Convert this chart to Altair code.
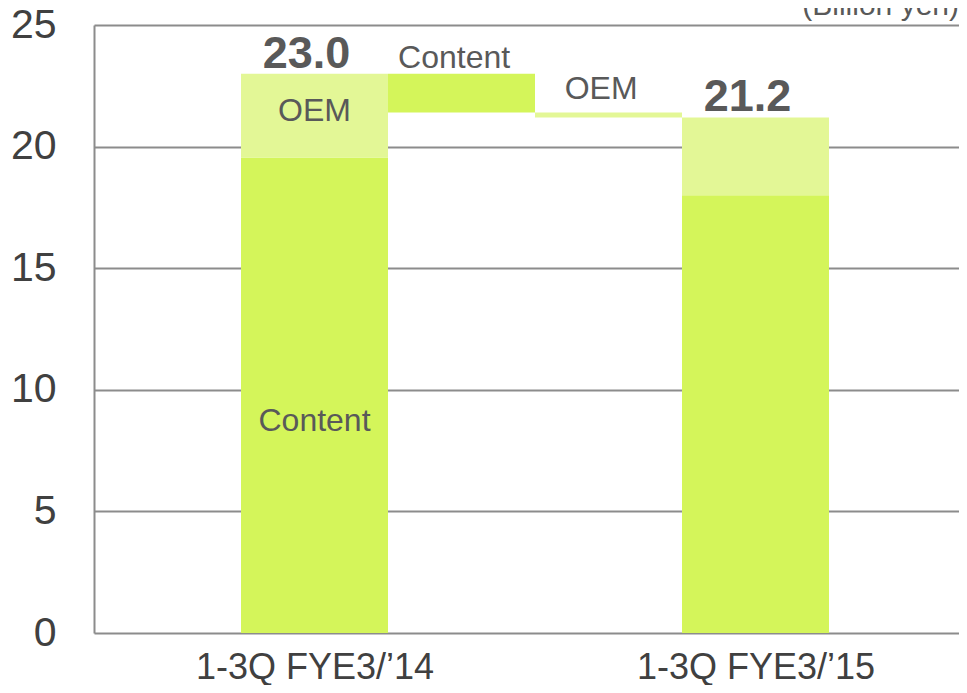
import altair as alt
import pandas as pd

# ---- data ----
periods = ["1-3Q FYE3/\u201914", "1-3Q FYE3/\u201915"]
segments = ["Content", "OEM"]
content_vals = [19.55, 18.0]
oem_vals = [3.45, 3.2]
totals = [23.0, 21.2]
bridge_labels = ["Content", "OEM"]
bridge_changes = [-1.6, -0.2]
unit_label = "(Billion yen)"
y_ticks = [0, 5, 10, 15, 20, 25]

# slots on the x scale: 1 = first period, 2-3 = bridge, 4 = second period
rows = []
rows.append(dict(x=1, x2=2, y=0, y2=content_vals[0], seg="Content"))
rows.append(dict(x=1, x2=2, y=content_vals[0], y2=content_vals[0] + oem_vals[0], seg="OEM"))
level = totals[0]
for i, (lab, ch) in enumerate(zip(bridge_labels, bridge_changes)):
    rows.append(dict(x=2 + i, x2=3 + i, y=level, y2=level + ch, seg=lab))
    level += ch
rows.append(dict(x=4, x2=5, y=0, y2=content_vals[1], seg="Content"))
rows.append(dict(x=4, x2=5, y=content_vals[1], y2=content_vals[1] + oem_vals[1], seg="OEM"))
bars_df = pd.DataFrame(rows)

totals_df = pd.DataFrame({"x": [1.5, 4.5], "y": totals,
                          "label": [f"{t:.1f}" for t in totals]})

seg_text_df = pd.DataFrame({
    "x": [1.5, 1.5, 2.45, 3.45],
    "y": [oem_vals[0] / 2 + content_vals[0] + 0.2, content_vals[0] * 0.45 - 0.1,
          totals[0] + 0.65, totals[0] + bridge_changes[0] + 0.95],
    "label": ["OEM", "Content", bridge_labels[0], bridge_labels[1]],
})

W, H = 865, 608
XMAX = W / 147.0
TXT = "#595959"
FONT = "Liberation Sans"

x_scale = alt.Scale(domain=[0, XMAX], nice=False, zero=False)
y_scale = alt.Scale(domain=[0, 25], nice=False)

label_expr = f"datum.value < 3 ? '{periods[0]}' : '{periods[1]}'"

bars = alt.Chart(bars_df).mark_rect().encode(
    x=alt.X("x:Q", scale=x_scale,
            axis=alt.Axis(values=[1.5, 4.5], labelExpr=label_expr, ticks=False,
                          domain=False, grid=False, title=None, labelFontSize=36,
                          labelColor="#404040", labelPadding=17, labelFont=FONT,
                          labelFlush=False, labelOverlap=False, labelLimit=0)),
    x2="x2:Q",
    y=alt.Y("y:Q", scale=y_scale,
            axis=alt.Axis(values=y_ticks, ticks=False, domain=True, domainColor="#8c8c8c",
                          domainWidth=2, grid=True, gridColor="#8c8c8c", gridWidth=2,
                          title=None, labelFontSize=41, labelColor="#404040",
                          labelPadding=38, labelFont=FONT)),
    y2="y2:Q",
    color=alt.Color("seg:N", scale=alt.Scale(domain=segments, range=["#D4F55A", "#E3F796"]),
                    legend=None),
)

tot_text = alt.Chart(totals_df).mark_text(
    fontSize=45, fontWeight="bold", color=TXT, baseline="alphabetic", dy=-6, dx=-8, font=FONT
).encode(x=alt.X("x:Q", scale=x_scale), y=alt.Y("y:Q", scale=y_scale), text="label:N")

seg_text = alt.Chart(seg_text_df).mark_text(
    fontSize=32, color=TXT, baseline="middle", font=FONT
).encode(x=alt.X("x:Q", scale=x_scale), y=alt.Y("y:Q", scale=y_scale), text="label:N")

unit_text = alt.Chart(pd.DataFrame({"t": [unit_label]})).mark_text(
    fontSize=30, color=TXT, align="right", baseline="alphabetic", font=FONT
).encode(x=alt.value(W), y=alt.value(-10), text="t:N")

chart = alt.layer(bars, tot_text, seg_text, unit_text).properties(
    width=W, height=H,
    autosize=alt.AutoSizeParams(type="none"),
    padding={"left": 86, "top": 17, "right": 0, "bottom": 52},
).configure_view(stroke=None)

chart.save("out.html", embed_options={"renderer": "svg", "actions": False})
